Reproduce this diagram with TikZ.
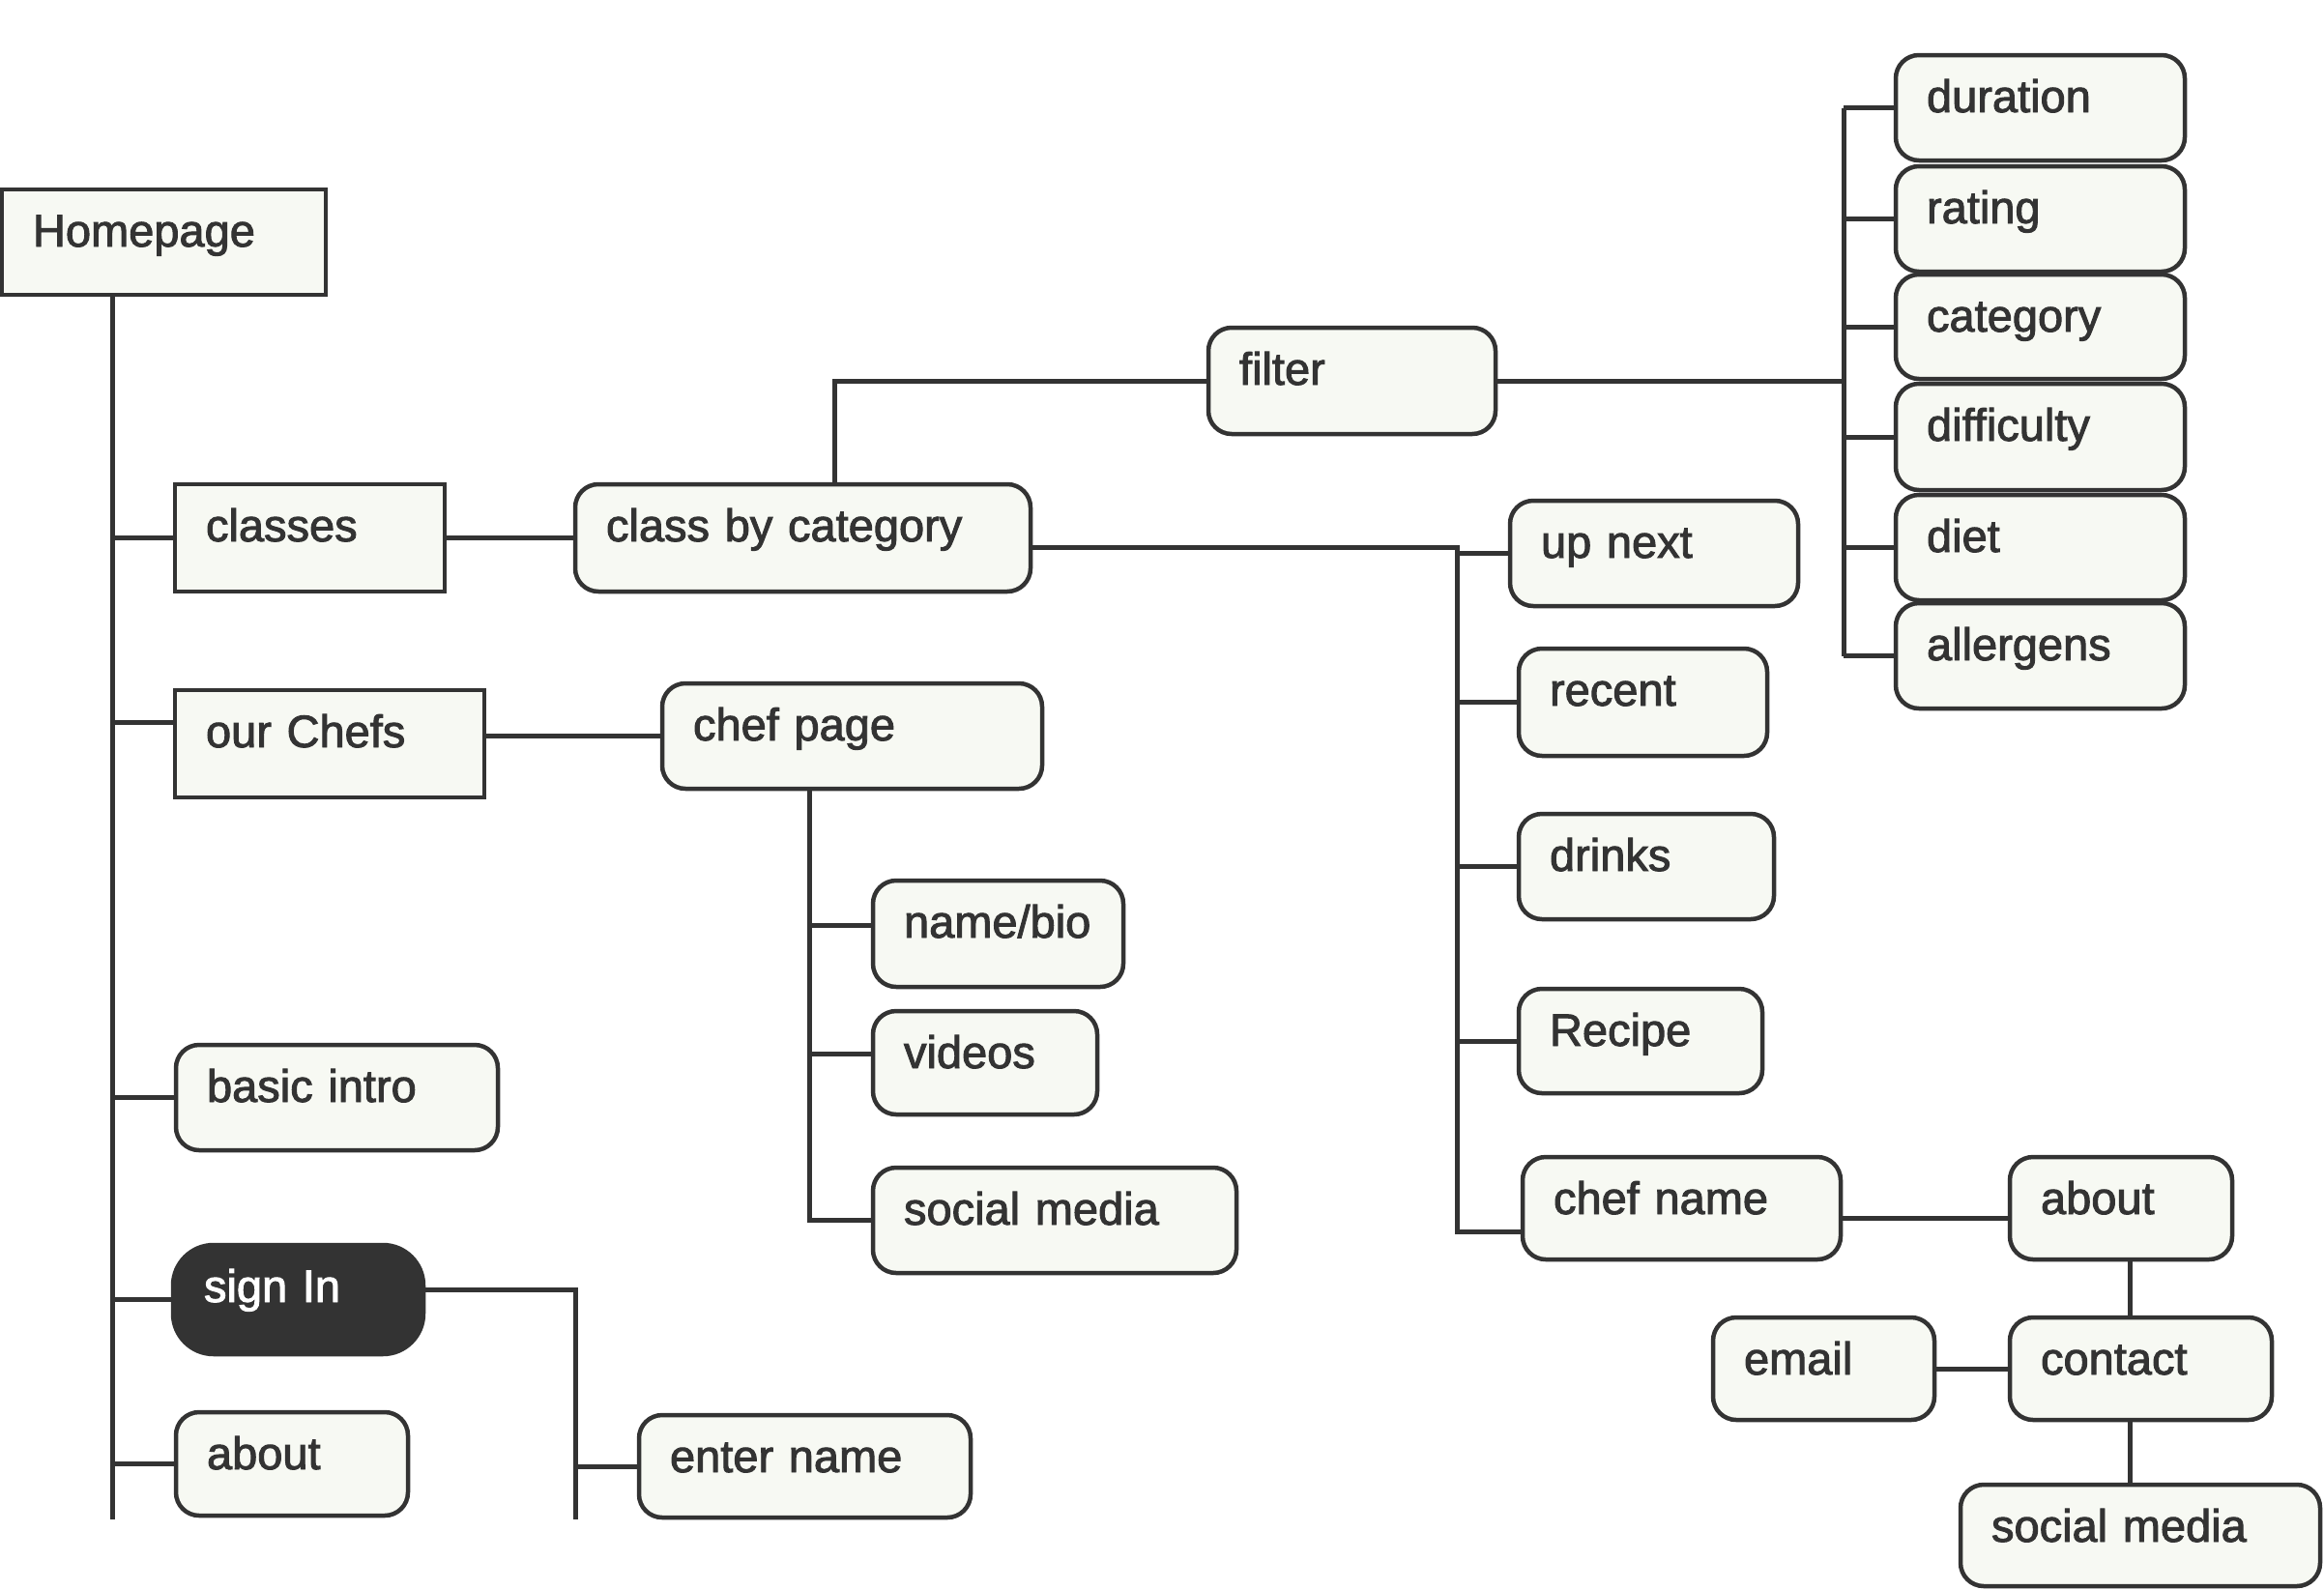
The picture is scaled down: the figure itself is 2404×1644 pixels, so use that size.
\documentclass[tikz,border=0pt]{standalone}
\usepackage{fontspec}
\setmainfont{Liberation Sans}
\newfontfamily\medfont{Liberation Sans}[FakeBold=2]
\usetikzlibrary{calc}
\definecolor{ink}{HTML}{333333}
\definecolor{paper}{HTML}{F7F9F3}
\newcommand\mybox[7]{%
  \pgfmathsetmacro\bw{#5-#3-64}%
  \pgfmathsetmacro\bd{#6-#4-59}%
  \node[#1, anchor=north west, text width=\bw pt, text height=59pt, text depth=\bd pt,
        inner xsep=32pt, inner ysep=0pt, outer sep=0pt, align=left] (#2) at (#3,#4) {#7};%
}
\begin{document}
\begin{tikzpicture}[x=1pt,y=-1pt,
  sq/.style={draw=ink, fill=paper, line width=4.5pt, text=ink, font=\medfont\fontsize{47}{56}\selectfont},
  rd/.style={sq, rounded corners=24pt},
  dark/.style={draw=ink, fill=ink, line width=4.5pt, text=white, rounded corners=42pt, font=\medfont\fontsize{47}{56}\selectfont},
  conn/.style={draw=ink, line width=5pt}]
\useasboundingbox (0,0) rectangle (2404,1644);
% nodes
\mybox{sq}{home}{2}{196}{337}{305}{Homepage}
\mybox{sq}{classes}{181}{501}{460}{612}{classes}
\mybox{sq}{chefs}{181}{714}{501}{825}{our Chefs}
\mybox{rd}{intro}{182}{1081}{515}{1190}{basic intro}
\mybox{dark}{signin}{179}{1288}{438}{1401}{sign In}
\mybox{rd}{aboutA}{182}{1461}{422}{1568}{about}
\mybox{rd}{enter}{661}{1464}{1004}{1570}{enter name}
\mybox{rd}{cbc}{595}{501}{1066}{612}{class by category}
\mybox{rd}{chefpage}{685}{707}{1078}{816}{chef page}
\mybox{rd}{namebio}{903}{911}{1162}{1021}{name/bio}
\mybox{rd}{videos}{903}{1046}{1135}{1153}{videos}
\mybox{rd}{socialA}{903}{1208}{1279}{1317}{social media}
\mybox{rd}{filter}{1250}{339}{1547}{449}{filter}
\mybox{rd}{duration}{1961}{57}{2260}{166}{duration}
\mybox{rd}{rating}{1961}{172}{2260}{281}{rating}
\mybox{rd}{category}{1961}{284}{2260}{392}{category}
\mybox{rd}{difficulty}{1961}{397}{2260}{507}{difficulty}
\mybox{rd}{diet}{1961}{512}{2260}{621}{diet}
\mybox{rd}{allergens}{1961}{624}{2260}{733}{allergens}
\mybox{rd}{upnext}{1562}{518}{1860}{627}{up next}
\mybox{rd}{recent}{1571}{671}{1828}{782}{recent}
\mybox{rd}{drinks}{1571}{842}{1835}{951}{drinks}
\mybox{rd}{recipe}{1571}{1023}{1823}{1131}{Recipe}
\mybox{rd}{chefname}{1575}{1197}{1904}{1303}{chef name}
\mybox{rd}{aboutB}{2079}{1197}{2309}{1303}{about}
\mybox{rd}{email}{1772}{1363}{2001}{1469}{email}
\mybox{rd}{contact}{2079}{1363}{2350}{1469}{contact}
\mybox{rd}{socialB}{2028}{1536}{2400}{1641}{social media}
% coordinates for trunks
\coordinate (tb) at (116,1572);
\coordinate (sb) at (595,1572);
\coordinate (cb) at (837,0);
\coordinate (fx) at (863,0);
\coordinate (rb) at (1507,0);
\coordinate (fb) at (1907,0);
\coordinate (vx) at (2203,0);
% main trunk
\draw[conn] (home.south -| tb) -- (tb);
\draw[conn] (classes.west) -- (classes.west -| tb);
\draw[conn] ([yshift=22pt]chefs.west) -- ([yshift=22pt]chefs.west -| tb);
\draw[conn] (intro.west) -- (intro.west -| tb);
\draw[conn] (signin.west) -- (signin.west -| tb);
\draw[conn] (aboutA.west) -- (aboutA.west -| tb);
% sign in
\draw[conn] ([yshift=10pt]signin.east) -- ([yshift=10pt]signin.east -| sb) -- (sb);
\draw[conn] (enter.west) -- (enter.west -| sb);
% classes
\draw[conn] (classes.east) -- (cbc.west);
\draw[conn] (cbc.north -| fx) -- (filter.west -| fx) -- (filter.west);
\draw[conn] (filter.east) -- (filter.east -| fb);
\draw[conn] (duration.west -| fb) -- (allergens.west -| fb);
\foreach \n in {duration,rating,category,difficulty,diet,allergens}
  \draw[conn] (\n.west) -- (\n.west -| fb);
\draw[conn] ([yshift=-10pt]cbc.east) -- ([yshift=-10pt]cbc.east -| rb) -- ([yshift=-24pt]chefname.west -| rb) -- ([yshift=-24pt]chefname.west);
\foreach \n in {upnext,recent,drinks,recipe}
  \draw[conn] (\n.west) -- (\n.west -| rb);
% chefs
\draw[conn] (chefpage.west -| chefs.east) -- (chefpage.west);
\draw[conn] (chefpage.south -| cb) -- (socialA.west -| cb) -- (socialA.west);
\draw[conn] ([yshift=9pt]namebio.west) -- ([yshift=9pt]namebio.west -| cb);
\draw[conn] ([yshift=9pt]videos.west) -- ([yshift=9pt]videos.west -| cb);
% chef name
\draw[conn] ([yshift=-10pt]chefname.east) -- ([yshift=-10pt]chefname.east -| aboutB.west);
\draw[conn] (aboutB.south -| vx) -- (contact.north -| vx);
\draw[conn] (contact.south -| vx) -- (socialB.north -| vx);
\draw[conn] (email.east) -- (contact.west);
\end{tikzpicture}
\end{document}
